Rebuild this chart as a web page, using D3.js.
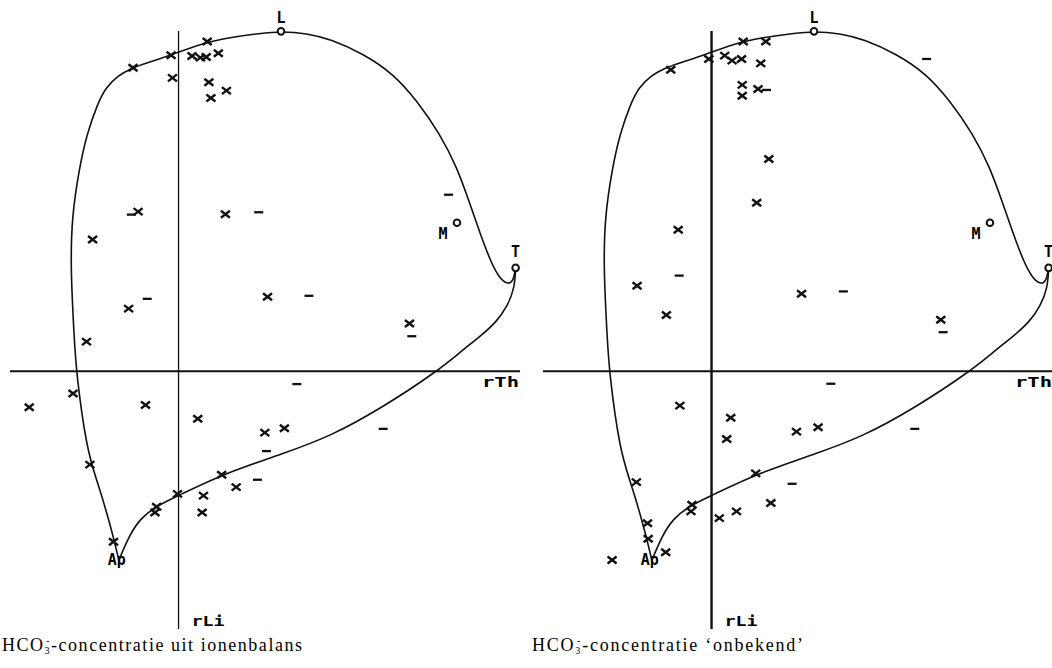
<!DOCTYPE html>
<html>
<head>
<meta charset="utf-8">
<script src="https://cdn.jsdelivr.net/npm/d3@7"></script>
<style>
  body { margin: 0; background: #fff; }
  svg { display: block; }
</style>
</head>
<body>
<svg id="chart" width="1052" height="668"></svg>
<script>
// closed envelope, drawn in two parts: Ap -> L -> T and T -> Ap  (rTh, rLi)
var upperCurve = [
  [-0.177,-0.561],[-0.203,-0.452],[-0.242,-0.324],[-0.272,-0.235],[-0.304,0.0],
  [-0.310,0.110],[-0.320,0.300],[-0.317,0.457],[-0.294,0.605],[-0.272,0.704],
  [-0.240,0.795],[-0.215,0.843],[-0.180,0.877],[-0.140,0.900],[-0.090,0.917],[-0.025,0.937],
  [0.064,0.972],[0.153,0.991],[0.242,1.003],[0.304,1.009],[0.381,1.003],
  [0.450,0.986],[0.549,0.942],[0.638,0.882],[0.707,0.803],[0.776,0.704],
  [0.826,0.605],[0.861,0.507],[0.895,0.408],[0.925,0.328],[0.950,0.279],
  [0.975,0.258],[0.993,0.266],[1.0,0.307]
];
var lowerCurve = [
  [1.0,0.307],[0.997,0.247],[0.976,0.194],[0.943,0.146],[0.893,0.102],[0.843,0.063],[0.768,0.0],
  [0.598,-0.112],[0.450,-0.193],[0.312,-0.244],[0.134,-0.304],[0.0,-0.369],
  [-0.064,-0.399],[-0.114,-0.437],[-0.148,-0.491],[-0.177,-0.561]
];

// end members
var refNames = ["L", "M", "T", "Ap"];
var refX = [0.304, 0.826, 1.0, -0.177];
var refY = [1.009, 0.441, 0.307, -0.561];

// samples, left: HCO3 from ion balance
var leftCrosses = [
  [0.085,0.979],[-0.022,0.938],[0.040,0.936],[0.065,0.931],[0.082,0.933],[0.118,0.944],
  [-0.135,0.901],[-0.018,0.871],[0.090,0.858],[0.142,0.833],[0.096,0.811],
  [-0.120,0.474],[0.139,0.466],[-0.255,0.391],[-0.148,0.186],[0.264,0.221],
  [0.685,0.142],[-0.273,0.088],
  [-0.443,-0.107],[-0.313,-0.066],[-0.098,-0.100],[0.057,-0.141],[0.256,-0.182],
  [0.314,-0.169],[-0.263,-0.277],[0.128,-0.307],[0.171,-0.344],[-0.003,-0.364],
  [0.074,-0.369],[-0.065,-0.402],[-0.070,-0.419],[0.070,-0.419],[-0.193,-0.506]
];
var leftDashes = [
  [-0.140,0.465],[0.238,0.472],[0.801,0.524],[-0.093,0.215],[0.387,0.224],[0.692,0.104],
  [0.351,-0.038],[0.607,-0.171],[0.261,-0.237],[0.234,-0.322]
];

// samples, right: HCO3 unknown
var rightCrosses = [
  [0.094,0.979],[0.161,0.979],[-0.121,0.895],[-0.008,0.927],[0.039,0.937],[0.061,0.922],
  [0.089,0.927],[0.146,0.914],[0.091,0.850],[0.091,0.818],[0.138,0.838],[0.170,0.630],
  [0.134,0.500],[-0.099,0.420],[-0.221,0.254],[-0.134,0.167],[0.267,0.230],[0.680,0.153],
  [-0.094,-0.102],[0.057,-0.138],[0.045,-0.201],[0.252,-0.179],[0.316,-0.166],
  [-0.223,-0.329],[0.131,-0.303],[0.176,-0.391],[-0.058,-0.396],[-0.061,-0.416],
  [0.023,-0.436],[0.074,-0.416],[-0.190,-0.451],[-0.188,-0.497],[-0.136,-0.537],[-0.295,-0.560]
];
var rightDashes = [
  [0.163,0.835],[0.638,0.927],[-0.096,0.284],[0.391,0.237],[0.687,0.116],
  [0.354,-0.037],[0.603,-0.171],[0.239,-0.334]
];

var captionTexts = ["-concentratie uit ionenbalans", "-concentratie \u2018onbekend\u2019"];

var svg = d3.select("#chart");

var panels = [
  { left: 10,  crosses: leftCrosses,  dashes: leftDashes,  caption: captionTexts[0], vw: 1.3, capW: 300, capX: 2 },
  { left: 543, crosses: rightCrosses, dashes: rightDashes, caption: captionTexts[1], vw: 2.4, capW: 271, capX: 532 }
];

var x = d3.scaleLinear().domain([-0.5, 1.013]).range([0, 510]);
var y = d3.scaleLinear().domain([-0.765, 1.01]).range([629, 31]);

var line = d3.line()
  .x(function(d){ return x(d[0]); })
  .y(function(d){ return y(d[1]); })
  .curve(d3.curveBasis);

var labelFont = "'DejaVu Sans Mono', monospace";

panels.forEach(function(p){
  var g = svg.append("g").attr("transform", "translate(" + p.left + ",0)");

  // axes
  g.append("line")
    .attr("x1", x(-0.5)).attr("x2", x(1.013))
    .attr("y1", y(0)).attr("y2", y(0))
    .attr("stroke", "#111").attr("stroke-width", 2);
  g.append("line")
    .attr("x1", x(0)).attr("x2", x(0))
    .attr("y1", y(1.01)).attr("y2", y(-0.765))
    .attr("stroke", "#111").attr("stroke-width", p.vw);

  g.append("text")
    .attr("x", x(1.013) - 38).attr("y", y(0) + 16)
    .attr("textLength", 37).attr("lengthAdjust", "spacingAndGlyphs")
    .style("font-family", labelFont).style("font-weight", "bold").style("font-size", "14px")
    .text("rTh");
  g.append("text")
    .attr("x", x(0) + 13).attr("y", y(-0.765) - 3)
    .attr("textLength", 33).attr("lengthAdjust", "spacingAndGlyphs")
    .style("font-family", labelFont).style("font-weight", "bold").style("font-size", "14px")
    .text("rLi");

  // envelope
  [upperCurve, lowerCurve].forEach(function(c){
    g.append("path")
      .attr("d", line(c))
      .attr("fill", "none")
      .attr("stroke", "#111")
      .attr("stroke-width", 1.6);
  });

  // sample markers
  g.selectAll("path.cross")
    .data(p.crosses)
    .enter()
    .append("path")
    .attr("class", "cross")
    .attr("transform", function(d){ return "translate(" + x(d[0]) + "," + y(d[1]) + ")"; })
    .attr("d", "M-4.5,-3.5L4.5,3.5M-4.5,3.5L4.5,-3.5")
    .attr("stroke", "#111")
    .attr("stroke-width", 2.4)
    .attr("fill", "none");

  g.selectAll("line.dash")
    .data(p.dashes)
    .enter()
    .append("line")
    .attr("class", "dash")
    .attr("x1", function(d){ return x(d[0]) - 4.5; })
    .attr("x2", function(d){ return x(d[0]) + 4.5; })
    .attr("y1", function(d){ return y(d[1]); })
    .attr("y2", function(d){ return y(d[1]); })
    .attr("stroke", "#111")
    .attr("stroke-width", 2.3);

  // end members
  refNames.forEach(function(n, i){
    var px = x(refX[i]), py = y(refY[i]);
    if (n !== "Ap") {
      g.append("circle")
        .attr("cx", px).attr("cy", py).attr("r", 3.3)
        .attr("fill", "#fff").attr("stroke", "#111").attr("stroke-width", 2);
    }
    var lx = px, ly = py - 8;
    if (n === "T") { ly = py - 11; }
    if (n === "M") { lx = px - 14; ly = py + 16; }
    if (n === "Ap") { lx = px - 2; ly = py + 5; }
    g.append("text")
      .attr("x", lx).attr("y", ly)
      .attr("text-anchor", "middle")
      .style("font-family", labelFont).style("font-weight", "bold").style("font-size", "15px")
      .text(n);
  });

  // caption
  var cap = svg.append("text")
    .attr("x", p.capX).attr("y", 651)
    .attr("textLength", p.capW).attr("lengthAdjust", "spacing")
    .style("font-family", "'Liberation Serif', 'Times New Roman', serif")
    .style("font-size", "18px")
    .attr("fill", "#000");
  cap.append("tspan").text("HCO");
  cap.append("tspan").attr("dy", 3).style("font-size", "10px").text("3");
  cap.append("tspan").attr("dx", -5).attr("dy", -10).style("font-size", "10px").text("-");
  cap.append("tspan").attr("dy", 7).text(p.caption);
});
</script>
</body>
</html>
